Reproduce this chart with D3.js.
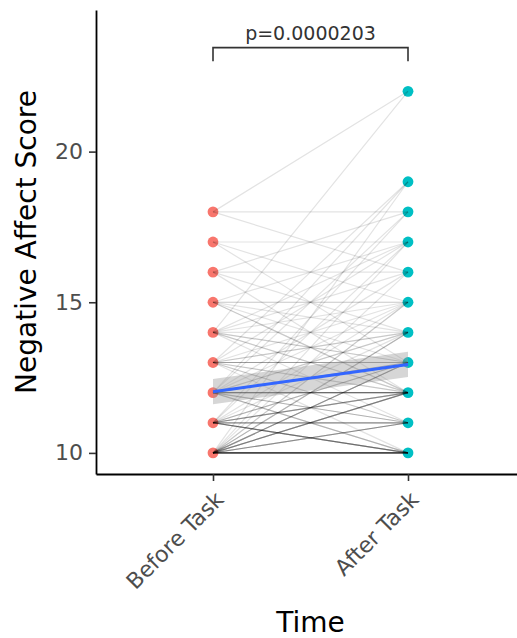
<!DOCTYPE html>
<html>
<head>
<meta charset="utf-8">
<script src="https://cdn.jsdelivr.net/npm/d3@7"></script>
<style>
  html, body { margin: 0; padding: 0; background: #fff; }
  svg { display: block; }
  text { font-family: "DejaVu Sans", "Liberation Sans", Arial, sans-serif; }
</style>
</head>
<body>
<svg id="chart" width="517" height="638"></svg>
<script>
// ---- data ----
const categories = ["Before Task", "After Task"];
// paired observations: score before, score after, number of participants with that pair
const pairBefore = [10,10,10,10,10,10,10,10,10, 11,11,11,11,11,11,11,11, 12,12,12,12,12,12,12,12,12, 13,13,13,13,13,13,13,13, 14,14,14,14,14,14,14,14, 15,15,15,15,15, 16,16,16,16, 17,17,17, 18,18,18];
const pairAfter  = [10,11,12,13,14,15,16,17,19, 10,11,12,13,14,15,17,18, 10,11,12,13,14,15,16,18,19, 10,11,12,13,14,15,17,19, 11,12,13,14,15,16,17,22, 12,13,14,15,17, 12,14,16,18, 13,15,17, 16,18,22];
const pairCount  = [14, 5, 6, 5, 3, 2, 1, 1, 1,  7, 5, 5, 3, 1, 1, 1, 1,  3, 3, 7, 3, 2, 1, 1, 1, 1,  1, 2, 2, 4, 2, 1, 1, 1,  1, 2, 2, 1, 1, 1, 1, 1,  2, 1, 1, 2, 1,  1, 1, 1, 1,  1, 1, 1,  1, 1, 1];
const yTicks = [10, 15, 20];
const pLabel = "p=0.0000203";
const colors = ["#F8766D", "#00BFC4"];

// ---- layout ----
const svg = d3.select("#chart");
const panel = { left: 96, top: 10, right: 525, bottom: 474 };

const x = d3.scalePoint().domain(categories).range([panel.left, panel.right]).padding(0.6);
const y = d3.scaleLinear().domain([9.3, 24.7]).range([panel.bottom, panel.top]);

// expand to subjects
const subjects = [];
pairBefore.forEach((b, i) => {
  for (let k = 0; k < pairCount[i]; k++) subjects.push({ before: b, after: pairAfter[i] });
});

// points (drawn first, lines over them)
const gPts = svg.append("g");
categories.forEach((c, ci) => {
  const vals = Array.from(new Set(subjects.map(s => ci === 0 ? s.before : s.after)));
  gPts.selectAll(null).data(vals).enter().append("circle")
    .attr("cx", x(c)).attr("cy", d => y(d)).attr("r", 5.4)
    .attr("fill", colors[ci]);
});

// paired lines
svg.append("g").selectAll("line").data(subjects).enter().append("line")
  .attr("x1", x(categories[0])).attr("x2", x(categories[1]))
  .attr("y1", d => y(d.before)).attr("y2", d => y(d.after))
  .attr("stroke", "#000").attr("stroke-opacity", 0.115).attr("stroke-width", 1.2);

// linear fit with 95% CI (x = 1, 2)
const n = subjects.length;
const mB = d3.mean(subjects, s => s.before);
const mA = d3.mean(subjects, s => s.after);
const ssr = d3.sum(subjects, s => (s.before - mB) ** 2 + (s.after - mA) ** 2);
const mse = ssr / (2 * n - 2);
const se = Math.sqrt(mse / n);
const tcrit = 1.969;
const fit = [{ c: categories[0], m: mB }, { c: categories[1], m: mA }];
svg.append("path").datum(fit)
  .attr("d", d3.area().x(d => x(d.c)).y0(d => y(d.m - tcrit * se)).y1(d => y(d.m + tcrit * se)))
  .attr("fill", "#999999").attr("fill-opacity", 0.4);
svg.append("path").datum(fit)
  .attr("d", d3.line().x(d => x(d.c)).y(d => y(d.m)))
  .attr("stroke", "#3366FF").attr("stroke-width", 3).attr("fill", "none");

// axes
const yAxis = svg.append("g").attr("transform", `translate(${panel.left},0)`)
  .call(d3.axisLeft(y).tickValues(yTicks).tickSize(7).tickSizeOuter(0).tickPadding(6));
yAxis.select(".domain").attr("stroke", "#000").attr("stroke-width", 1.8);
yAxis.selectAll(".tick line").attr("stroke", "#333").attr("stroke-width", 1.6);
yAxis.selectAll(".tick text").attr("fill", "#4d4d4d").style("font-size", "22px")
  .style("font-family", "DejaVu Sans, sans-serif");

const xAxis = svg.append("g").attr("transform", `translate(0,${panel.bottom})`)
  .call(d3.axisBottom(x).tickSize(7).tickSizeOuter(0).tickFormat(""));
xAxis.select(".domain").attr("stroke", "#000").attr("stroke-width", 1.8);
xAxis.selectAll(".tick line").attr("stroke", "#333").attr("stroke-width", 1.6);
svg.append("g").selectAll("text").data(categories).enter().append("text")
  .attr("transform", d => `translate(${x(d) + 12},${panel.bottom + 27}) rotate(-45)`)
  .attr("text-anchor", "end").attr("fill", "#4d4d4d").style("font-size", "22px")
  .text(d => d);

// axis titles
svg.append("text").attr("x", (panel.left + panel.right) / 2).attr("y", 632)
  .attr("text-anchor", "middle").style("font-size", "28px").attr("fill", "#000").text("Time");
svg.append("text")
  .attr("transform", `translate(36,${(panel.top + panel.bottom) / 2}) rotate(-90)`)
  .attr("text-anchor", "middle").style("font-size", "28px").attr("fill", "#000")
  .text("Negative Affect Score");

// significance bracket
const bx1 = x(categories[0]), bx2 = x(categories[1]);
const yBar = y(23.45), yTip = y(23.0);
svg.append("path")
  .attr("d", `M${bx1},${yTip}V${yBar}H${bx2}V${yTip}`)
  .attr("fill", "none").attr("stroke", "#333").attr("stroke-width", 1.6);
svg.append("text").attr("x", (bx1 + bx2) / 2).attr("y", yBar - 8)
  .attr("text-anchor", "middle").attr("fill", "#333").style("font-size", "19px")
  .text(pLabel);
</script>
</body>
</html>
